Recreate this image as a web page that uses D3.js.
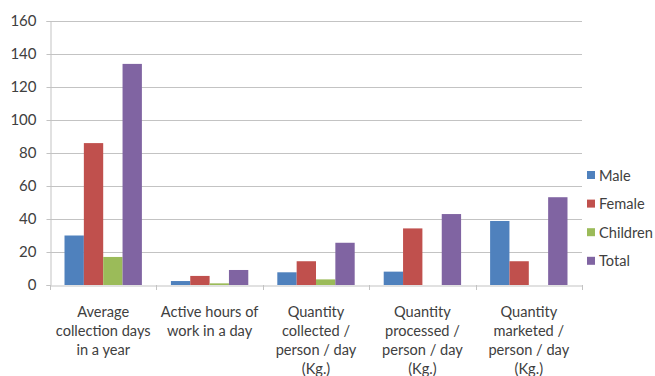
<!DOCTYPE html>
<html>
<head>
<meta charset="utf-8">
<script src="https://cdn.jsdelivr.net/npm/d3@7"></script>
<style>
  html, body { margin: 0; padding: 0; background: #fff; }
  svg { display: block; }
</style>
</head>
<body>
<svg id="chart" width="655" height="376"></svg>
<script>
const categories = [
  ["Average", "collection days", "in a year"],
  ["Active hours of", "work in a day"],
  ["Quantity", "collected /", "person / day", "(Kg.)"],
  ["Quantity", "processed /", "person / day", "(Kg.)"],
  ["Quantity", "marketed /", "person / day", "(Kg.)"]
];
const seriesNames = ["Male", "Female", "Children", "Total"];
const male     = [30, 2.4, 7.7, 8.1, 38.8];
const female   = [86, 5.5, 14.4, 34.3, 14.4];
const children = [17, 1, 3.4, 0, 0];
const total    = [134, 9.1, 25.6, 43, 53.2];
const yTicks = [0, 20, 40, 60, 80, 100, 120, 140, 160];
const colors = ["#4F81BD", "#C0504D", "#9BBB59", "#8064A2"];

(function () {
const seriesValues = [male, female, children, total];
const svg = d3.select("#chart");
const mLeft = 50, mRight = 582, mTop = 21, mBottom = 285;

const x0 = d3.scaleBand().domain(d3.range(categories.length)).range([mLeft, mRight]).padding(0);
const bw = x0.bandwidth();
const gap = bw * 1.5 / 5.5;
const x1 = d3.scaleBand().domain(seriesNames).range([gap / 2, bw - gap / 2]).padding(0);
const y = d3.scaleLinear().domain([0, 160]).range([mBottom, mTop]);

const grid = "#c3c3c3";
const textColor = "#404040";
const font = "Lato, 'Liberation Sans', sans-serif";

// gridlines
svg.append("g").selectAll("line").data(yTicks.filter(d => d > 0)).join("line")
  .attr("x1", mLeft).attr("x2", mRight)
  .attr("y1", d => Math.round(y(d)) + 0.5).attr("y2", d => Math.round(y(d)) + 0.5)
  .attr("stroke", grid).attr("stroke-width", 1);

// y axis
const yAxis = d3.axisLeft(y).tickValues(yTicks).tickSize(4).tickPadding(10);
const gy = svg.append("g").attr("transform", `translate(${mLeft + 0.5},0)`).call(yAxis);
gy.select(".domain").attr("stroke", grid);
gy.selectAll(".tick line").attr("stroke", grid);
gy.selectAll(".tick text").attr("fill", textColor).style("font-family", font).style("font-size", "15px");

// bars
const groups = svg.append("g").selectAll("g").data(categories).join("g")
  .attr("transform", (d, i) => `translate(${x0(i)},0)`);
groups.selectAll("rect").data((d, i) => seriesNames.map((s, k) => ({ s, k, v: seriesValues[k][i] })))
  .join("rect")
  .attr("x", d => x1(d.s))
  .attr("width", x1.bandwidth())
  .attr("y", d => y(d.v))
  .attr("height", d => y(0) - y(d.v))
  .attr("fill", d => colors[d.k]);

// x axis
const xAxis = d3.axisBottom(x0).tickSize(0).tickFormat("");
const gx = svg.append("g").attr("transform", `translate(0,${mBottom + 0.5})`).call(xAxis);
gx.selectAll(".tick").remove();
gx.select(".domain").attr("stroke", grid);
svg.append("g").selectAll("line").data(d3.range(categories.length + 1)).join("line")
  .attr("x1", i => Math.round(mLeft + i * bw) + 0.5).attr("x2", i => Math.round(mLeft + i * bw) + 0.5)
  .attr("y1", mBottom).attr("y2", mBottom + 5)
  .attr("stroke", grid);

// category labels
const labels = svg.append("g").selectAll("text").data(categories).join("text")
  .attr("transform", (d, i) => `translate(${x0(i) + bw / 2},${mBottom + 32})`)
  .attr("text-anchor", "middle")
  .attr("fill", textColor)
  .style("font-family", font).style("font-size", "14.6px");
labels.selectAll("tspan").data(d => d).join("tspan")
  .attr("x", 0).attr("dy", (d, j) => j === 0 ? 0 : 19)
  .text(d => d);

// legend
const legend = svg.append("g").selectAll("g").data(seriesNames).join("g")
  .attr("transform", (d, i) => `translate(587,${175 + i * 28.6})`);
legend.append("rect").attr("x", 0).attr("y", -4).attr("width", 8).attr("height", 8)
  .attr("fill", (d, i) => colors[i]);
legend.append("text").attr("x", 12).attr("y", 5.5)
  .attr("fill", textColor)
  .style("font-family", font).style("font-size", "14.6px")
  .text(d => d);
})();
</script>
</body>
</html>
